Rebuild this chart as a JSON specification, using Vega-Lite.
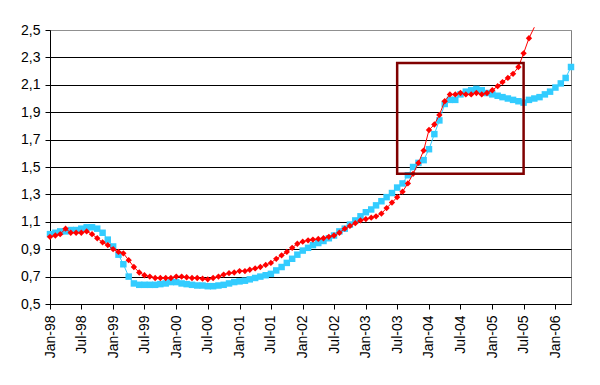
{
"$schema":"https://vega.github.io/schema/vega-lite/v6.json",
"autosize":{"type":"none"},
"width":521,"height":274,
"padding":{"left":50,"top":30,"right":29,"bottom":81},
"background":"white",
"config":{"view":{"stroke":"#808080","strokeWidth":1},"font":"Liberation Sans"},
"datasets":{
"cyan":[
{"d":"1998-01-01T00:00","v":1.01},{"d":"1998-02-01T00:00","v":1.02},{"d":"1998-03-01T00:00","v":1.03},{"d":"1998-04-01T00:00","v":1.03},{"d":"1998-05-01T00:00","v":1.04},{"d":"1998-06-01T00:00","v":1.04},{"d":"1998-07-01T00:00","v":1.05},{"d":"1998-08-01T00:00","v":1.06},{"d":"1998-09-01T00:00","v":1.06},{"d":"1998-10-01T00:00","v":1.05},{"d":"1998-11-01T00:00","v":1.02},{"d":"1998-12-01T00:00","v":0.97},
{"d":"1999-01-01T00:00","v":0.92},{"d":"1999-02-01T00:00","v":0.86},{"d":"1999-03-01T00:00","v":0.79},{"d":"1999-04-01T00:00","v":0.70},{"d":"1999-05-01T00:00","v":0.65},{"d":"1999-06-01T00:00","v":0.64},{"d":"1999-07-01T00:00","v":0.64},{"d":"1999-08-01T00:00","v":0.64},{"d":"1999-09-01T00:00","v":0.64},{"d":"1999-10-01T00:00","v":0.645},{"d":"1999-11-01T00:00","v":0.65},{"d":"1999-12-01T00:00","v":0.66},
{"d":"2000-01-01T00:00","v":0.66},{"d":"2000-02-01T00:00","v":0.65},{"d":"2000-03-01T00:00","v":0.645},{"d":"2000-04-01T00:00","v":0.64},{"d":"2000-05-01T00:00","v":0.635},{"d":"2000-06-01T00:00","v":0.635},{"d":"2000-07-01T00:00","v":0.63},{"d":"2000-08-01T00:00","v":0.63},{"d":"2000-09-01T00:00","v":0.635},{"d":"2000-10-01T00:00","v":0.64},{"d":"2000-11-01T00:00","v":0.65},{"d":"2000-12-01T00:00","v":0.66},
{"d":"2001-01-01T00:00","v":0.665},{"d":"2001-02-01T00:00","v":0.67},{"d":"2001-03-01T00:00","v":0.68},{"d":"2001-04-01T00:00","v":0.69},{"d":"2001-05-01T00:00","v":0.70},{"d":"2001-06-01T00:00","v":0.71},{"d":"2001-07-01T00:00","v":0.72},{"d":"2001-08-01T00:00","v":0.745},{"d":"2001-09-01T00:00","v":0.77},{"d":"2001-10-01T00:00","v":0.80},{"d":"2001-11-01T00:00","v":0.83},{"d":"2001-12-01T00:00","v":0.86},
{"d":"2002-01-01T00:00","v":0.89},{"d":"2002-02-01T00:00","v":0.91},{"d":"2002-03-01T00:00","v":0.93},{"d":"2002-04-01T00:00","v":0.945},{"d":"2002-05-01T00:00","v":0.96},{"d":"2002-06-01T00:00","v":0.98},{"d":"2002-07-01T00:00","v":1.00},{"d":"2002-08-01T00:00","v":1.03},{"d":"2002-09-01T00:00","v":1.05},{"d":"2002-10-01T00:00","v":1.08},{"d":"2002-11-01T00:00","v":1.11},{"d":"2002-12-01T00:00","v":1.14},
{"d":"2003-01-01T00:00","v":1.17},{"d":"2003-02-01T00:00","v":1.19},{"d":"2003-03-01T00:00","v":1.22},{"d":"2003-04-01T00:00","v":1.25},{"d":"2003-05-01T00:00","v":1.28},{"d":"2003-06-01T00:00","v":1.31},{"d":"2003-07-01T00:00","v":1.35},{"d":"2003-08-01T00:00","v":1.38},{"d":"2003-09-01T00:00","v":1.44},{"d":"2003-10-01T00:00","v":1.50},{"d":"2003-11-01T00:00","v":1.53},{"d":"2003-12-01T00:00","v":1.55},
{"d":"2004-01-01T00:00","v":1.63},{"d":"2004-02-01T00:00","v":1.74},{"d":"2004-03-01T00:00","v":1.84},{"d":"2004-04-01T00:00","v":1.96},{"d":"2004-05-01T00:00","v":1.99},{"d":"2004-06-01T00:00","v":1.99},{"d":"2004-07-01T00:00","v":2.03},{"d":"2004-08-01T00:00","v":2.05},{"d":"2004-09-01T00:00","v":2.06},{"d":"2004-10-01T00:00","v":2.07},{"d":"2004-11-01T00:00","v":2.06},{"d":"2004-12-01T00:00","v":2.04},
{"d":"2005-01-01T00:00","v":2.03},{"d":"2005-02-01T00:00","v":2.02},{"d":"2005-03-01T00:00","v":2.01},{"d":"2005-04-01T00:00","v":2.00},{"d":"2005-05-01T00:00","v":1.99},{"d":"2005-06-01T00:00","v":1.98},{"d":"2005-07-01T00:00","v":1.97},{"d":"2005-08-01T00:00","v":1.99},{"d":"2005-09-01T00:00","v":2.00},{"d":"2005-10-01T00:00","v":2.01},{"d":"2005-11-01T00:00","v":2.03},{"d":"2005-12-01T00:00","v":2.05},
{"d":"2006-01-01T00:00","v":2.08},{"d":"2006-02-01T00:00","v":2.11},{"d":"2006-03-01T00:00","v":2.15},{"d":"2006-04-01T00:00","v":2.23}
],
"red":[
{"d":"1998-01-01T00:00","v":0.99},{"d":"1998-02-01T00:00","v":1.00},{"d":"1998-03-01T00:00","v":1.01},{"d":"1998-04-01T00:00","v":1.05},{"d":"1998-05-01T00:00","v":1.02},{"d":"1998-06-01T00:00","v":1.02},{"d":"1998-07-01T00:00","v":1.02},{"d":"1998-08-01T00:00","v":1.03},{"d":"1998-09-01T00:00","v":1.01},{"d":"1998-10-01T00:00","v":0.98},{"d":"1998-11-01T00:00","v":0.95},{"d":"1998-12-01T00:00","v":0.93},
{"d":"1999-01-01T00:00","v":0.90},{"d":"1999-02-01T00:00","v":0.88},{"d":"1999-03-01T00:00","v":0.87},{"d":"1999-04-01T00:00","v":0.82},{"d":"1999-05-01T00:00","v":0.77},{"d":"1999-06-01T00:00","v":0.73},{"d":"1999-07-01T00:00","v":0.71},{"d":"1999-08-01T00:00","v":0.70},{"d":"1999-09-01T00:00","v":0.69},{"d":"1999-10-01T00:00","v":0.69},{"d":"1999-11-01T00:00","v":0.69},{"d":"1999-12-01T00:00","v":0.69},
{"d":"2000-01-01T00:00","v":0.70},{"d":"2000-02-01T00:00","v":0.70},{"d":"2000-03-01T00:00","v":0.695},{"d":"2000-04-01T00:00","v":0.69},{"d":"2000-05-01T00:00","v":0.69},{"d":"2000-06-01T00:00","v":0.685},{"d":"2000-07-01T00:00","v":0.68},{"d":"2000-08-01T00:00","v":0.69},{"d":"2000-09-01T00:00","v":0.70},{"d":"2000-10-01T00:00","v":0.715},{"d":"2000-11-01T00:00","v":0.725},{"d":"2000-12-01T00:00","v":0.73},
{"d":"2001-01-01T00:00","v":0.74},{"d":"2001-02-01T00:00","v":0.74},{"d":"2001-03-01T00:00","v":0.75},{"d":"2001-04-01T00:00","v":0.76},{"d":"2001-05-01T00:00","v":0.77},{"d":"2001-06-01T00:00","v":0.785},{"d":"2001-07-01T00:00","v":0.80},{"d":"2001-08-01T00:00","v":0.83},{"d":"2001-09-01T00:00","v":0.855},{"d":"2001-10-01T00:00","v":0.88},{"d":"2001-11-01T00:00","v":0.91},{"d":"2001-12-01T00:00","v":0.94},
{"d":"2002-01-01T00:00","v":0.955},{"d":"2002-02-01T00:00","v":0.965},{"d":"2002-03-01T00:00","v":0.97},{"d":"2002-04-01T00:00","v":0.975},{"d":"2002-05-01T00:00","v":0.98},{"d":"2002-06-01T00:00","v":0.99},{"d":"2002-07-01T00:00","v":1.00},{"d":"2002-08-01T00:00","v":1.02},{"d":"2002-09-01T00:00","v":1.05},{"d":"2002-10-01T00:00","v":1.07},{"d":"2002-11-01T00:00","v":1.09},{"d":"2002-12-01T00:00","v":1.11},
{"d":"2003-01-01T00:00","v":1.12},{"d":"2003-02-01T00:00","v":1.13},{"d":"2003-03-01T00:00","v":1.14},{"d":"2003-04-01T00:00","v":1.16},{"d":"2003-05-01T00:00","v":1.20},{"d":"2003-06-01T00:00","v":1.24},{"d":"2003-07-01T00:00","v":1.28},{"d":"2003-08-01T00:00","v":1.32},{"d":"2003-09-01T00:00","v":1.38},{"d":"2003-10-01T00:00","v":1.45},{"d":"2003-11-01T00:00","v":1.53},{"d":"2003-12-01T00:00","v":1.62},
{"d":"2004-01-01T00:00","v":1.77},{"d":"2004-02-01T00:00","v":1.81},{"d":"2004-03-01T00:00","v":1.88},{"d":"2004-04-01T00:00","v":1.98},{"d":"2004-05-01T00:00","v":2.03},{"d":"2004-06-01T00:00","v":2.03},{"d":"2004-07-01T00:00","v":2.04},{"d":"2004-08-01T00:00","v":2.03},{"d":"2004-09-01T00:00","v":2.03},{"d":"2004-10-01T00:00","v":2.04},{"d":"2004-11-01T00:00","v":2.03},{"d":"2004-12-01T00:00","v":2.04},
{"d":"2005-01-01T00:00","v":2.06},{"d":"2005-02-01T00:00","v":2.09},{"d":"2005-03-01T00:00","v":2.12},{"d":"2005-04-01T00:00","v":2.15},{"d":"2005-05-01T00:00","v":2.18},{"d":"2005-06-01T00:00","v":2.23},{"d":"2005-07-01T00:00","v":2.33},{"d":"2005-08-01T00:00","v":2.44},{"d":"2005-09-01T00:00","v":2.52}
],
"box":[{"d":"2003-07-01T00:00","d2":"2005-07-01T00:00","v":1.45,"v2":2.26}]
},
"encoding":{
"x":{"field":"d","type":"temporal","scale":{"domain":[{"year":1998,"month":1,"date":1},{"year":2006,"month":4,"date":1}]},
"axis":{"title":null,"grid":false,"format":"%b-%y","tickCount":{"interval":"month","step":6},"labelAngle":270,"labelFontSize":14,"labelColor":"black","labelFont":"Liberation Sans","labelPadding":6,"tickSize":5,"tickColor":"black","domainColor":"black","labelOverlap":false,"labelFlush":false}},
"y":{"field":"v","type":"quantitative","scale":{"domain":[0.5,2.5],"nice":false,"zero":false},
"axis":{"title":null,"values":[0.5,0.7,0.9,1.1,1.3,1.5,1.7,1.9,2.1,2.3,2.5],"labelExpr":"replace(format(datum.value,'.1f'),'.',',')","grid":true,"gridColor":{"condition":{"test":"datum.value > 2.49","value":"#909090"},"value":"black"},"gridOpacity":1,"gridWidth":1,"labelFontSize":14,"labelColor":"black","labelFont":"Liberation Sans","labelPadding":5,"tickSize":5,"tickColor":"black","domainColor":"black","labelFlush":false}}
},
"layer":[
{"data":{"name":"cyan"},"mark":{"type":"line","color":"#33CCFF","strokeWidth":1}},
{"data":{"name":"cyan"},"mark":{"type":"point","shape":"square","filled":true,"color":"#33CCFF","size":42,"opacity":1}},
{"data":{"name":"red"},"mark":{"type":"line","color":"#FF0000","strokeWidth":1,"clip":false}},
{"data":{"name":"red"},"transform":[{"filter":"datum.v <= 2.5"}],"mark":{"type":"point","shape":"diamond","filled":true,"color":"#FF0000","size":40,"opacity":1}},
{"data":{"name":"box"},"mark":{"type":"rect","fill":null,"fillOpacity":0,"stroke":"#800000","strokeWidth":2.5},
"encoding":{"x2":{"field":"d2"},"y2":{"field":"v2"}}}
]
}
